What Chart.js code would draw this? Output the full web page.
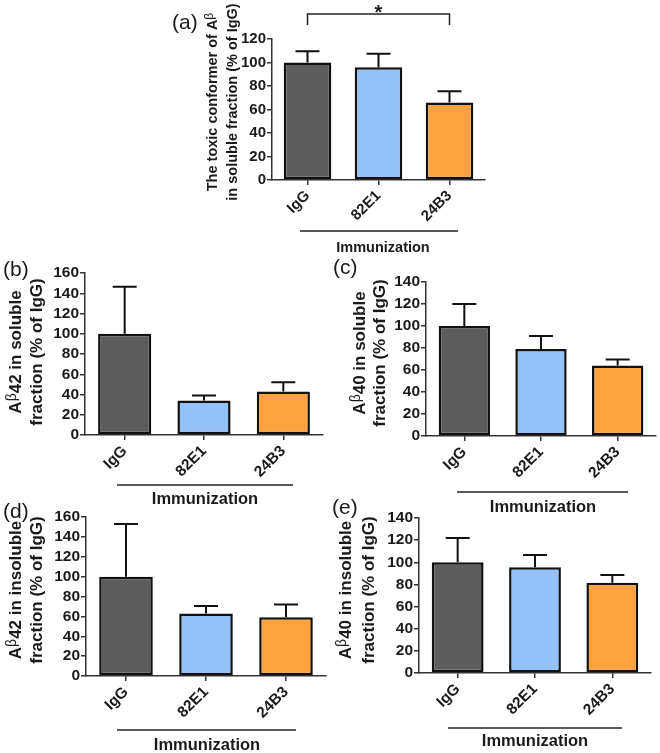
<!DOCTYPE html>
<html><head><meta charset="utf-8">
<script src="https://cdn.jsdelivr.net/npm/chart.js@4.4.0/dist/chart.umd.min.js"></script>
<style>
html,body{margin:0;padding:0;background:#fff;}
#wrap{position:relative;width:660px;height:753px;overflow:hidden;background:#fff;}
canvas{position:absolute;left:0;top:0;}
</style></head><body><div id="wrap">
<canvas id="ca" width="660" height="753"></canvas>
<canvas id="cb" width="660" height="753"></canvas>
<canvas id="cc" width="660" height="753"></canvas>
<canvas id="cd" width="660" height="753"></canvas>
<canvas id="ce" width="660" height="753"></canvas>
</div>
<script>
// ---- data ----
const categories = ['IgG', '82E1', '24B3'];
const groupLabel = 'Immunization';
const meanA = [100, 96, 66];
const errA  = [9.5, 11.5, 9.5];
const meanB = [100, 34, 43];
const errB  = [46.5, 5, 9];
const meanC = [100, 79, 64];
const errC  = [20, 12, 5.5];
const meanD = [100, 63, 59];
const errD  = [53, 7.5, 13];
const meanE = [100, 95.5, 81.5];
const errE  = [22, 11, 7];
const yMaxA = 120, yMaxB = 160, yMaxC = 140, yMaxD = 160, yMaxE = 140;
const titleA = [[{t:'The toxic conformer of A'},{t:'β',sup:1}], [{t:'in soluble fraction (% of IgG)'}]];
const titleB = [[{t:'A'},{t:'β',sup:1},{t:'42 in soluble'}], [{t:'fraction (% of IgG)'}]];
const titleC = [[{t:'A'},{t:'β',sup:1},{t:'40 in soluble'}], [{t:'fraction (% of IgG)'}]];
const titleD = [[{t:'A'},{t:'β',sup:1},{t:'42 in insoluble'}], [{t:'fraction (% of IgG)'}]];
const titleE = [[{t:'A'},{t:'β',sup:1},{t:'40 in insoluble'}], [{t:'fraction (% of IgG)'}]];
const sigLabel = '*';

// ---- styles ----
const FONT = '"Liberation Sans", Arial, Helvetica, sans-serif';
const barColors = ['#5d5d5d', '#92c2f8', '#fea23f'];
const INK = '#1a1a1a';

function segFont(s, size){
  return s.sup ? `normal ${Math.round(size*0.85)}px ${FONT}` : `bold ${size}px ${FONT}`;
}
function drawRich(ctx, segs, size, cx, cy, rot){
  ctx.save();
  ctx.translate(cx, cy);
  if (rot) ctx.rotate(-Math.PI/2);
  let w = 0;
  segs.forEach(s => { ctx.font = segFont(s, size); w += ctx.measureText(s.t).width; });
  let x = -w/2;
  ctx.textBaseline = 'middle'; ctx.textAlign = 'left'; ctx.fillStyle = INK;
  segs.forEach(s => {
    ctx.font = segFont(s, size);
    ctx.fillText(s.t, x, s.sup ? -size*0.25 : 0);
    x += ctx.measureText(s.t).width;
  });
  ctx.restore();
}

const deco = {
  id: 'deco',
  afterDatasetsDraw(chart){
    const o = chart.options.plugins.deco;
    const ctx = chart.ctx;
    const ys = chart.scales.y;
    const meta = chart.getDatasetMeta(0);
    const ds = chart.data.datasets[0];
    ctx.save();
    ctx.strokeStyle = '#111'; ctx.lineWidth = 2;
    meta.data.forEach((bar, i) => {
      const yc = ys.getPixelForValue(ds.data[i] + ds.errors[i]);
      ctx.beginPath();
      ctx.moveTo(bar.x, bar.y); ctx.lineTo(bar.x, yc);
      ctx.moveTo(bar.x - o.cap/2, yc); ctx.lineTo(bar.x + o.cap/2, yc);
      ctx.stroke();
    });
    // group line + label
    ctx.strokeStyle = '#222'; ctx.lineWidth = 1.5;
    ctx.beginPath(); ctx.moveTo(o.gx1, o.gy); ctx.lineTo(o.gx2, o.gy); ctx.stroke();
    ctx.fillStyle = INK; ctx.font = `bold ${o.gs}px ${FONT}`;
    ctx.textAlign = 'center'; ctx.textBaseline = 'middle';
    ctx.fillText(groupLabel, o.gtx, o.gty);
    // panel letter
    ctx.font = `normal 21px ${FONT}`; ctx.textAlign = 'left';
    ctx.fillText(o.letter, o.lx, o.ly);
    // y title
    o.title.forEach((line, k) => drawRich(ctx, line, o.ts, o.tx[k], o.ty, true));
    // significance
    if (o.sig) {
      const x1 = meta.data[0].x, x2 = meta.data[2].x;
      ctx.strokeStyle = '#222'; ctx.lineWidth = 1.5;
      ctx.beginPath();
      ctx.moveTo(x1, 25); ctx.lineTo(x1, 14); ctx.lineTo(x2, 14); ctx.lineTo(x2, 25);
      ctx.stroke();
      ctx.font = `bold 20px ${FONT}`; ctx.textAlign = 'center'; ctx.textBaseline = 'alphabetic';
      ctx.fillText(sigLabel, (x1+x2)/2, 19);
    }
    ctx.restore();
  }
};

function makePanel(id, means, errs, yMax, g){
  const tickFont = {family: FONT, size: g.fs, weight: 'bold'};
  new Chart(document.getElementById(id), {
    type: 'bar',
    data: {
      labels: categories,
      datasets: [{
        data: means,
        errors: errs,
        backgroundColor: barColors,
        borderColor: '#111',
        borderWidth: 2.5,
        borderSkipped: false,
        barPercentage: 0.67,
        categoryPercentage: 1
      }]
    },
    options: {
      responsive: false, animation: false, devicePixelRatio: 1,
      layout: {padding: {left: g.L - 50, right: 660 - g.R, top: g.T, bottom: 753 - g.B - 60}},
      plugins: {legend: {display: false}, tooltip: {enabled: false}, deco: g.deco},
      scales: {
        x: {
          offset: true,
          ticks: {minRotation: 45, maxRotation: 45, autoSkip: false, font: tickFont, color: INK, padding: 2},
          grid: {offset: false, drawOnChartArea: false, drawTicks: true, tickLength: 5, color: '#333', lineWidth: 1.5},
          border: {display: true, color: '#333', width: 1.5},
          afterFit(s){ s.height = 60; }
        },
        y: {
          min: 0, max: yMax,
          ticks: {stepSize: 20, autoSkip: false, font: tickFont, color: INK, padding: 1},
          grid: {drawOnChartArea: false, drawTicks: true, tickLength: 5, color: '#333', lineWidth: 1.5},
          border: {display: true, color: '#333', width: 1.5},
          afterFit(s){ s.width = 50; }
        }
      }
    },
    plugins: [deco]
  });
}

makePanel('ca', meanA, errA, yMaxA, {L:272, R:485, T:39, B:180, fs:15,
  deco:{cap:24, gx1:300, gx2:458, gy:231, gtx:383, gty:248, gs:14.5, letter:'(a)', lx:172, ly:23,
        title:titleA, ts:14.5, tx:[213,233], ty:102, sig:true}});
makePanel('cb', meanB, errB, yMaxB, {L:85, R:323, T:273, B:435, fs:15.5,
  deco:{cap:24, gx1:117, gx2:293, gy:485, gtx:205, gty:499, gs:16.5, letter:'(b)', lx:3, ly:270,
        title:titleB, ts:17, tx:[16,37.5], ty:352}});
makePanel('cc', meanC, errC, yMaxC, {L:426, R:656, T:282, B:436, fs:15.5,
  deco:{cap:24, gx1:457, gx2:628, gy:492, gtx:543, gty:507, gs:16.5, letter:'(c)', lx:333, ly:268,
        title:titleC, ts:17, tx:[360,380], ty:353}});
makePanel('cd', meanD, errD, yMaxD, {L:86, R:326, T:517, B:676, fs:15.5,
  deco:{cap:24, gx1:117, gx2:296, gy:730, gtx:207, gty:745, gs:16.5, letter:'(d)', lx:3, ly:512,
        title:titleD, ts:17, tx:[16,37], ty:590}});
makePanel('ce', meanE, errE, yMaxE, {L:419, R:651, T:518, B:673, fs:15.5,
  deco:{cap:24, gx1:448, gx2:622, gy:728, gtx:535, gty:741, gs:16.5, letter:'(e)', lx:332, ly:508,
        title:titleE, ts:17, tx:[346,369], ty:590}});
</script>
</body></html>
